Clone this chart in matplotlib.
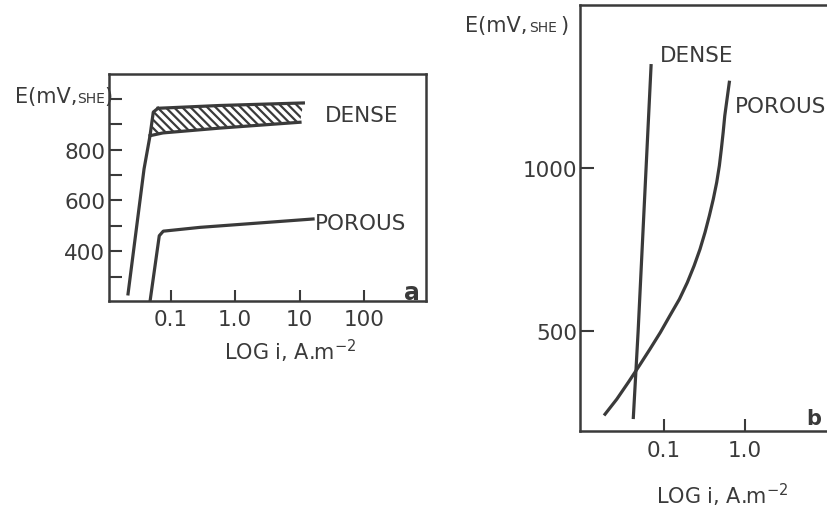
import matplotlib
matplotlib.use("Agg")
import matplotlib.pyplot as plt

# --- figure geometry (pixels of the 827x510 reference) ---
W, H = 827, 510
INK = "#3a3a3a"

plt.rcParams["font.family"] = "DejaVu Sans"
plt.rcParams["mathtext.default"] = "regular"
plt.rcParams["hatch.linewidth"] = 1.6
plt.rcParams["hatch.color"] = INK

# =============================================================================
# DATA - panel a  (log i in A.m-2, E in mV SHE)
# =============================================================================
dense_a_i = [0.0218, 0.0386, 0.0478, 0.0537, 0.0635]
dense_a_E = [232, 724, 855, 948, 963]

band_top_i = [0.0635, 0.58, 11.4]
band_top_E = [963, 974, 984]
band_low_i = [0.0478, 0.076, 0.58, 10.1]
band_low_E = [855, 866, 885, 908]

porous_a_i = [0.0479, 0.0665, 0.0767, 0.284, 16.1]
porous_a_E = [204, 461, 479, 494, 527]

xticks_a = [0.1, 1.0, 10, 100]
xticklabels_a = ["0.1", "1.0", "10", "100"]
yticks_a = [300, 400, 500, 600, 700, 800, 900, 1000]
yticklabels_a = ["", "400", "", "600", "", "800", "", ""]

# =============================================================================
# DATA - panel b
# =============================================================================
dense_b_i = [0.0418, 0.0479, 0.0692]
dense_b_E = [236, 500, 1315]

porous_b_i = [0.0187, 0.0261, 0.0363, 0.0496, 0.0672, 0.0902, 0.118, 0.155,
              0.194, 0.235, 0.278, 0.321, 0.363, 0.406, 0.447, 0.482, 0.510,
              0.537, 0.562, 0.600, 0.640]
porous_b_E = [246, 292, 344, 395, 446, 497, 548, 599,
              650, 701, 752, 804, 855, 906, 957, 1008, 1059,
              1110, 1161, 1213, 1264]

xticks_b = [0.1, 1.0]
xticklabels_b = ["0.1", "1.0"]
yticks_b = [500, 1000]
yticklabels_b = ["500", "1000"]


def px_rect(x0, y0, x1, y1):
    # pixel box (top-left origin) -> figure fraction rect
    return [x0 / W, 1 - y1 / H, (x1 - x0) / W, (y1 - y0) / H]


def style_axes(ax, ylen, xlen, ypad, xpad):
    ax.set_xscale("log")
    ax.minorticks_off()
    for s in ax.spines.values():
        s.set_color(INK)
        s.set_linewidth(1.8)
    ax.tick_params(axis="y", direction="in", length=ylen, width=1.5,
                   color=INK, labelcolor=INK, labelsize=15.5, pad=ypad)
    ax.tick_params(axis="x", direction="in", length=xlen, width=1.5,
                   color=INK, labelcolor=INK, labelsize=15.5, pad=xpad)


def unit_label(x_big, x_small, x_close, base):
    # "E(mV, SHE)" with small-cap SHE, positioned in reference pixels
    y = 1 - base / H
    fig.text(x_big / W, y, "E(mV,", fontsize=15, color=INK, va="baseline")
    fig.text(x_small / W, y, "SHE", fontsize=10, color=INK, va="baseline")
    fig.text(x_close / W, y, ")", fontsize=15, color=INK, va="baseline")


fig = plt.figure(figsize=(W / 100, H / 100), dpi=100)
fig.patch.set_facecolor("white")

# =============================================================================
# PANEL a
# =============================================================================
ax1 = fig.add_axes(px_rect(109.3, 75, 426, 302))
ax1.set_xlim(0.01117, 907.8)
ax1.set_ylim(204, 1098)

lw = 2.3
ax1.plot(dense_a_i, dense_a_E, color=INK, lw=lw, solid_joinstyle="round")
ax1.plot(band_top_i, band_top_E, color=INK, lw=lw)
ax1.plot(band_low_i, band_low_E, color=INK, lw=lw)
# hatched band between the two dense curves
poly_i = band_low_i[:1] + dense_a_i[3:] + band_top_i[1:] + band_low_i[::-1]
poly_E = band_low_E[:1] + dense_a_E[3:] + band_top_E[1:] + band_low_E[::-1]
ax1.fill(poly_i, poly_E, facecolor="none", edgecolor=INK, lw=0,
         hatch="\\\\\\\\")
ax1.plot(porous_a_i, porous_a_E, color=INK, lw=lw, solid_joinstyle="round")

style_axes(ax1, ylen=9.5, xlen=8, ypad=3, xpad=6)
ax1.set_xticks(xticks_a, xticklabels_a)
ax1.set_yticks(yticks_a, yticklabels_a)

ax1.text(24.7, 914, "DENSE", fontsize=15.5, color=INK, va="baseline")
ax1.text(17.3, 488, "POROUS", fontsize=15.5, color=INK, va="baseline")
ax1.text(0.956, 0.009, "a", transform=ax1.transAxes, fontsize=17,
         fontweight="bold", color=INK, ha="center", va="baseline")

fig.text(290 / W, 1 - 360 / H, "LOG i, A.m$^{-2}$", fontsize=15,
         color=INK, ha="center", va="baseline")
unit_label(15, 77, 104, 103.3)

# =============================================================================
# PANEL b
# =============================================================================
ax2 = fig.add_axes(px_rect(580, 6, 835, 431.5))
ax2.set_xlim(0.00918, 12.9)
ax2.set_ylim(196, 1501)

ax2.plot(dense_b_i, dense_b_E, color=INK, lw=lw)
ax2.plot(porous_b_i, porous_b_E, color=INK, lw=lw, solid_joinstyle="round")

style_axes(ax2, ylen=10, xlen=8.5, ypad=2, xpad=7)
ax2.set_xticks(xticks_b, xticklabels_b)
ax2.set_yticks(yticks_b, yticklabels_b)

ax2.text(0.0893, 1330, "DENSE", fontsize=15.5, color=INK, va="baseline")
ax2.text(0.753, 1172, "POROUS", fontsize=15.5, color=INK, va="baseline")
ax2.text(0.918, 0.015, "b", transform=ax2.transAxes, fontsize=15,
         fontweight="bold", color=INK, ha="center", va="baseline")

fig.text(722 / W, 1 - 504.3 / H, "LOG i, A.m$^{-2}$", fontsize=15,
         color=INK, ha="center", va="baseline")
unit_label(465, 529, 560, 31.7)

fig.savefig("out.png", dpi=100, facecolor="white")
